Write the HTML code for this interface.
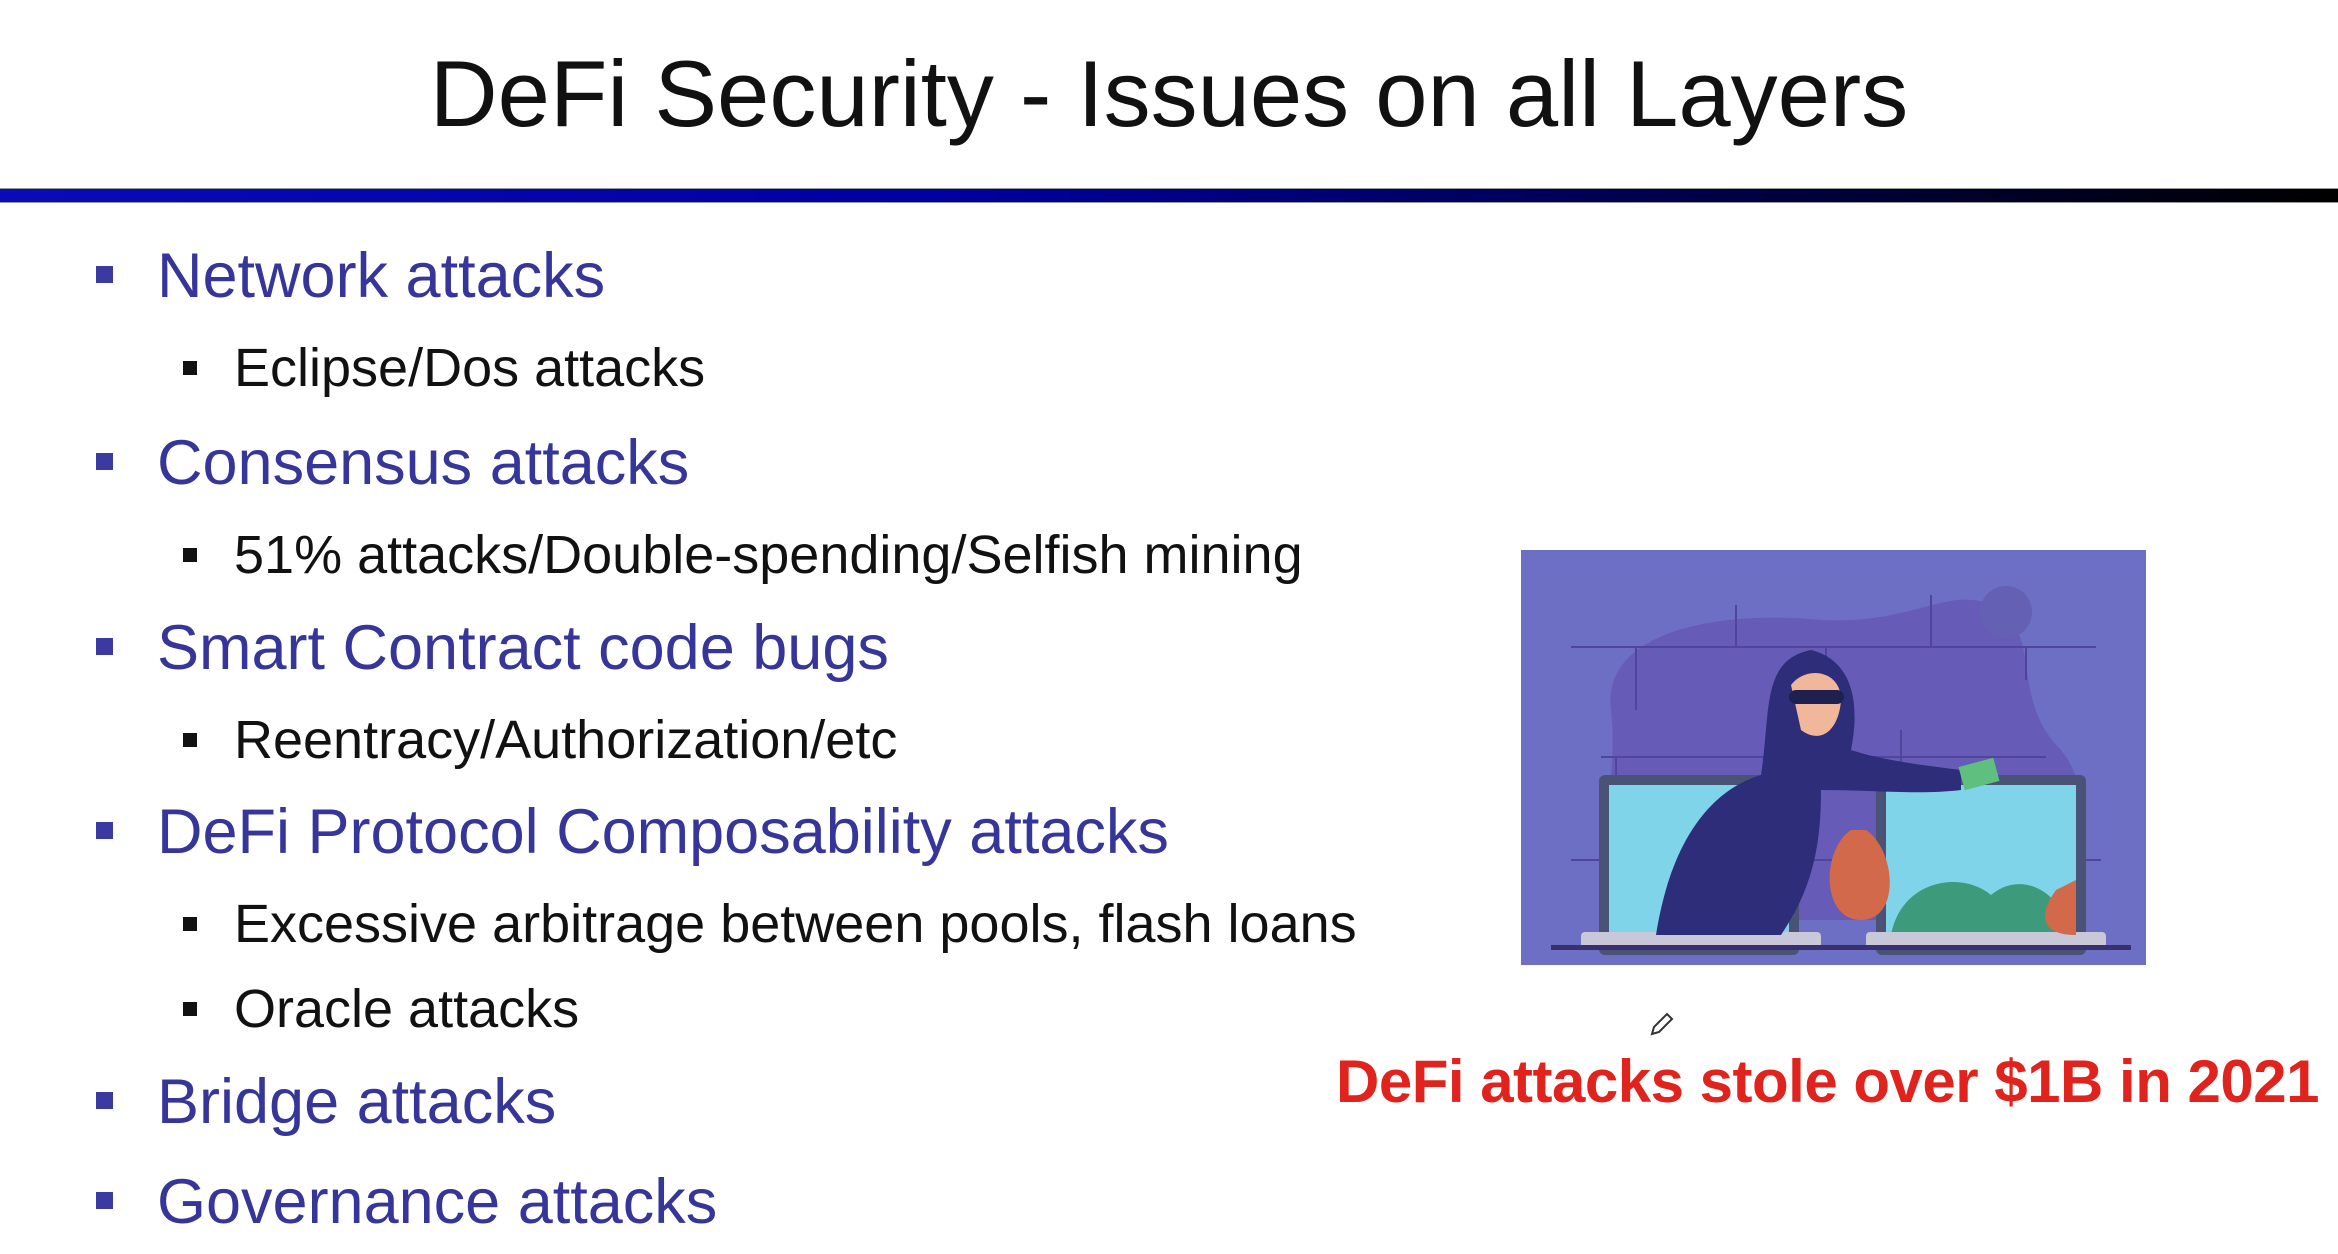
<!DOCTYPE html>
<html><head><meta charset="utf-8"><style>
html,body{margin:0;padding:0;background:#fff;}
body{width:2338px;height:1254px;position:relative;overflow:hidden;font-family:"Liberation Sans",sans-serif;}
.t{position:absolute;white-space:nowrap;}
.title{left:0;width:2338px;text-align:center;top:40px;font-size:94px;color:#111;}
.bar{position:absolute;left:0;top:188px;width:2338px;height:13px;background:linear-gradient(90deg,#0a0ab8 0%,#0000a0 40%,#000050 70%,#000 100%);border-top:1px solid #999;border-bottom:1px solid #999;}
.l1{font-size:63px;color:#35359a;left:157px;}
.l2{font-size:54px;color:#111;left:234px;}
.b1{position:absolute;left:96px;width:17px;height:17px;background:#3a3aa0;}
.b2{position:absolute;left:183px;width:14px;height:14px;background:#111;}
.red{left:1336px;top:1047px;font-size:60px;font-weight:bold;color:#e0231c;letter-spacing:-0.5px;}
</style></head><body>
<div class="t title">DeFi Security - Issues on all Layers</div>
<div class="bar"></div>

<div class="b1" style="top:266px"></div><div class="t l1" style="top:240px">Network attacks</div>
<div class="b2" style="top:361px"></div><div class="t l2" style="top:337px">Eclipse/Dos attacks</div>
<div class="b1" style="top:453px"></div><div class="t l1" style="top:427px">Consensus attacks</div>
<div class="b2" style="top:548px"></div><div class="t l2" style="top:524px">51% attacks/Double-spending/Selfish mining</div>
<div class="b1" style="top:638px"></div><div class="t l1" style="top:612px">Smart Contract code bugs</div>
<div class="b2" style="top:733px"></div><div class="t l2" style="top:709px">Reentracy/Authorization/etc</div>
<div class="b1" style="top:822px"></div><div class="t l1" style="top:796px">DeFi Protocol Composability attacks</div>
<div class="b2" style="top:917px"></div><div class="t l2" style="top:893px">Excessive arbitrage between pools, flash loans</div>
<div class="b2" style="top:1002px"></div><div class="t l2" style="top:978px">Oracle attacks</div>
<div class="b1" style="top:1092px"></div><div class="t l1" style="top:1066px">Bridge attacks</div>
<div class="b1" style="top:1192px"></div><div class="t l1" style="top:1166px">Governance attacks</div>

<svg style="position:absolute;left:1521px;top:550px" width="625" height="415" viewBox="0 0 625 415">
<rect width="625" height="415" fill="#6d6fc4"/>
<path d="M90 160 C80 80 200 60 300 70 C400 75 430 30 480 60 C520 90 490 150 540 200 C580 250 560 330 520 370 L110 370 C60 330 100 240 90 160Z" fill="#665cb7"/>
<circle cx="485" cy="62" r="26" fill="#6460b4"/>
<g stroke="#50459a" stroke-width="2" fill="none">
<line x1="50" y1="97" x2="575" y2="97"/><line x1="80" y1="207" x2="525" y2="207"/><line x1="50" y1="310" x2="580" y2="310"/>
<line x1="215" y1="55" x2="215" y2="97"/><line x1="410" y1="45" x2="410" y2="97"/><line x1="115" y1="97" x2="115" y2="160"/><line x1="305" y1="97" x2="305" y2="130"/><line x1="505" y1="97" x2="505" y2="130"/>
<line x1="260" y1="160" x2="260" y2="207"/><line x1="380" y1="180" x2="380" y2="250"/><line x1="95" y1="207" x2="95" y2="250"/>
</g>
<rect x="78" y="225" width="200" height="180" rx="6" fill="#4a5275"/><rect x="88" y="235" width="180" height="150" fill="#7fd4ea"/>
<rect x="355" y="225" width="210" height="180" rx="6" fill="#4a5275"/><rect x="365" y="235" width="190" height="150" fill="#7fd4ea"/>
<path d="M370 385 C380 330 440 320 470 345 C500 320 540 340 550 385Z" fill="#3d9a7a"/>
<rect x="60" y="382" width="240" height="16" rx="4" fill="#c8c8d8"/><rect x="345" y="382" width="240" height="16" rx="4" fill="#c8c8d8"/>
<rect x="30" y="395" width="580" height="5" fill="#3a3070"/>
<path d="M135 385 C150 290 190 240 240 225 C250 160 240 110 290 100 C330 110 340 150 330 200 C360 210 400 215 440 220 L440 240 C400 245 350 240 300 240 C300 300 290 340 260 385Z" fill="#2d2d7a"/>
<path d="M270 135 C285 115 320 120 320 150 C318 180 300 195 280 180Z" fill="#f0b79a"/>
<rect x="268" y="140" width="55" height="14" rx="7" fill="#1f1f50"/>
<path d="M330 280 C300 300 300 370 340 370 C380 370 375 300 345 280Z" fill="#d2694a"/>
<path d="M535 340 C520 360 515 385 555 385 L555 330Z" fill="#d2694a"/>
<rect x="440" y="212" width="36" height="24" fill="#5fbf7f" transform="rotate(-15 458 224)"/>
</svg>

<svg style="position:absolute;left:1648px;top:1010px" width="28" height="28" viewBox="0 0 28 28"><path d="M4 24 L6 17 L19 4 L24 9 L11 22 Z" fill="none" stroke="#333" stroke-width="2"/></svg>
<div class="t red">DeFi attacks stole over $1B in 2021</div>
</body></html>
